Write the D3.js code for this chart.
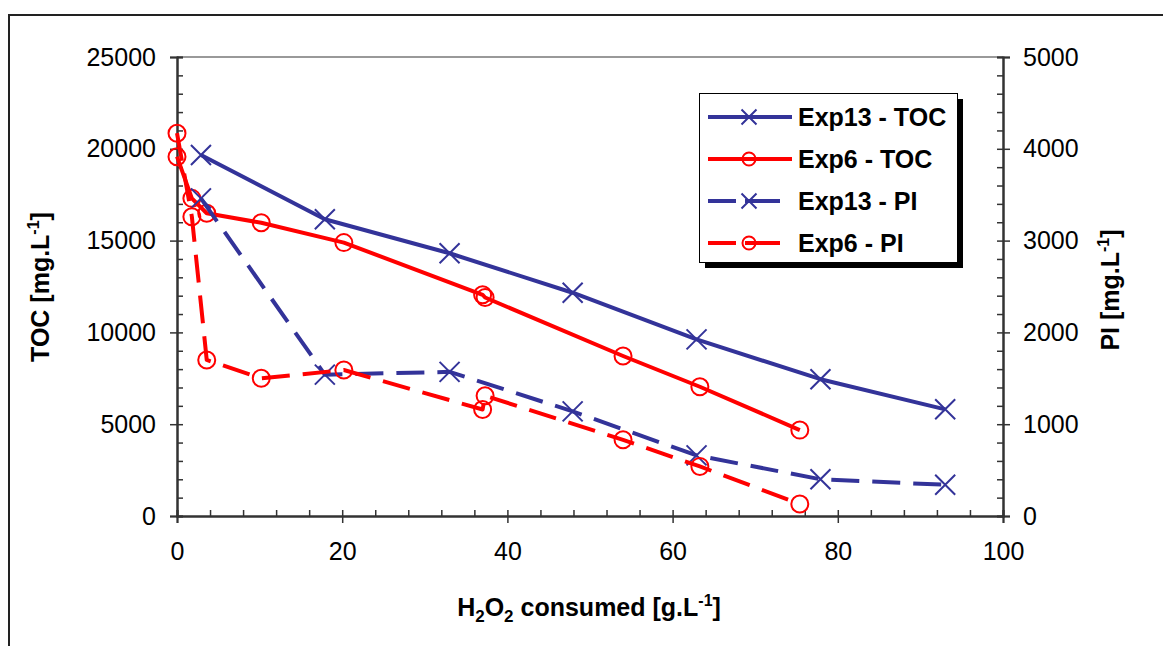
<!DOCTYPE html>
<html>
<head>
<meta charset="utf-8">
<script src="https://cdn.jsdelivr.net/npm/d3@7"></script>
<style>
  body { margin: 0; background: #fff; }
  svg { display: block; font-family: "Liberation Sans", Arial, sans-serif; }
</style>
</head>
<body>
<svg id="chart" width="1163" height="646"></svg>
<script>
// H2O2 consumed [g/L] and measured values
const h2o2Exp13 = [2.9, 17.9, 33.0, 47.9, 62.9, 77.9, 93.0];
const tocExp13 = [19660, 16160, 14310, 12160, 9620, 7450, 5810];
const piExp13 = [3460, 1540, 1570, 1140, 660, 400, 340];

const h2o2Exp6 = [0, 1.8, 3.6, 10.2, 20.2, 37.0, 37.3, 54.0, 63.3, 75.4];
const tocExp6 = [19570, 17300, 16490, 15970, 14890, 12050, 11900, 8715, 7040, 4680];
const piExp6 = [4170, 3260, 1700, 1500, 1590, 1160, 1310, 830, 540, 130];

const xTicks = [0, 20, 40, 60, 80, 100];
const tocTicks = [0, 5000, 10000, 15000, 20000, 25000];
const piTicks = [0, 1000, 2000, 3000, 4000, 5000];
const seriesNames = ['Exp13 - TOC', 'Exp6 - TOC', 'Exp13 - PI', 'Exp6 - PI'];

(function() {
    const svg = d3.select('#chart');
    const plot = { left: 177, right: 1003, top: 57, bottom: 516 };
    const BLUE = '#333399', RED = '#ff0000', AXIS = '#333';

    const x = d3.scaleLinear().domain([0, 100]).range([plot.left, plot.right]);
    const yToc = d3.scaleLinear().domain([0, 25000]).range([plot.bottom, plot.top]);
    const yPi = d3.scaleLinear().domain([0, 5000]).range([plot.bottom, plot.top]);

    // outer frame (only left and top visible)
    svg.append('path')
        .attr('d', 'M9,646 V15 H1163')
        .attr('fill', 'none')
        .attr('stroke', '#222')
        .attr('stroke-width', 2);

    // plot area top border
    svg.append('line')
        .attr('x1', plot.left).attr('x2', plot.right)
        .attr('y1', plot.top).attr('y2', plot.top)
        .attr('stroke', '#999').attr('stroke-width', 2);

    function styleAxis(g) {
        g.select('.domain').attr('stroke', AXIS).attr('stroke-width', 2);
        g.selectAll('.tick line').attr('stroke', AXIS).attr('stroke-width', 1.5);
        g.selectAll('text').attr('fill', '#000').attr('font-size', '25px')
            .attr('font-family', '"Liberation Sans", Arial, sans-serif');
    }

    const minor = (scale, step) => d3.range(scale.domain()[0], scale.domain()[1] + step / 2, step);

    // left axis (TOC)
    svg.append('g').attr('transform', `translate(${plot.left},0)`)
        .call(d3.axisRight(yToc).tickValues(minor(yToc, 1000)).tickSize(6).tickFormat(''))
        .call(styleAxis);
    svg.append('g').attr('transform', `translate(${plot.left},0)`)
        .call(d3.axisLeft(yToc).tickValues(tocTicks).tickSize(7).tickPadding(14).tickFormat(d3.format('d')))
        .call(styleAxis);

    // right axis (PI)
    svg.append('g').attr('transform', `translate(${plot.right},0)`)
        .call(d3.axisLeft(yPi).tickValues(minor(yPi, 200)).tickSize(6).tickFormat(''))
        .call(styleAxis);
    svg.append('g').attr('transform', `translate(${plot.right},0)`)
        .call(d3.axisRight(yPi).tickValues(piTicks).tickSize(7).tickPadding(13).tickFormat(d3.format('d')))
        .call(styleAxis);

    // bottom axis
    svg.append('g').attr('transform', `translate(0,${plot.bottom})`)
        .call(d3.axisTop(x).tickValues(minor(x, 4)).tickSize(6).tickFormat(''))
        .call(styleAxis);
    svg.append('g').attr('transform', `translate(0,${plot.bottom})`)
        .call(d3.axisBottom(x).tickValues(xTicks).tickSize(7).tickPadding(19))
        .call(styleAxis);

    // axis titles
    const xTitle = svg.append('text')
        .attr('x', 589).attr('y', 616)
        .attr('text-anchor', 'middle')
        .attr('font-size', '25px').attr('font-weight', 'bold');
    xTitle.append('tspan').text('H');
    xTitle.append('tspan').attr('dy', 6).attr('font-size', '17px').text('2');
    xTitle.append('tspan').attr('dy', -6).text('O');
    xTitle.append('tspan').attr('dy', 6).attr('font-size', '17px').text('2');
    xTitle.append('tspan').attr('dy', -6).text(' consumed [g.L');
    xTitle.append('tspan').attr('dy', -10).attr('font-size', '16px').text('-1');
    xTitle.append('tspan').attr('dy', 10).text(']');

    function yTitle(label, cx, cy) {
        const t = svg.append('text')
            .attr('transform', `translate(${cx},${cy}) rotate(-90)`)
            .attr('text-anchor', 'middle')
            .attr('font-size', '25px').attr('font-weight', 'bold');
        t.append('tspan').text(label + ' [mg.L');
        t.append('tspan').attr('dy', -10).attr('font-size', '16px').text('-1');
        t.append('tspan').attr('dy', 10).text(']');
    }
    yTitle('TOC', 49, 287);
    yTitle('PI', 1119, 290);

    const series = [
        { name: seriesNames[0], xs: h2o2Exp13, ys: tocExp13, y: yToc, color: BLUE, dashed: false, marker: 'x' },
        { name: seriesNames[1], xs: h2o2Exp6, ys: tocExp6, y: yToc, color: RED, dashed: false, marker: 'o' },
        { name: seriesNames[2], xs: h2o2Exp13, ys: piExp13, y: yPi, color: BLUE, dashed: true, marker: 'x' },
        { name: seriesNames[3], xs: h2o2Exp6, ys: piExp6, y: yPi, color: RED, dashed: true, marker: 'o' }
    ];

    function drawMarker(g, type, cx, cy, size, color) {
        if (type === 'x') {
            g.append('path')
                .attr('d', `M${cx - size},${cy - size}L${cx + size},${cy + size}M${cx - size},${cy + size}L${cx + size},${cy - size}`)
                .attr('stroke', color).attr('stroke-width', 2).attr('fill', 'none');
        } else {
            g.append('circle')
                .attr('cx', cx).attr('cy', cy).attr('r', size)
                .attr('stroke', color).attr('stroke-width', 2).attr('fill', 'none');
        }
    }

    series.forEach(function(s) {
        const pts = s.xs.map((v, i) => [x(v), s.y(s.ys[i])]);
        const g = svg.append('g');
        g.append('path')
            .attr('d', d3.line()(pts))
            .attr('fill', 'none')
            .attr('stroke', s.color)
            .attr('stroke-width', 4)
            .attr('stroke-linejoin', 'round')
            .attr('stroke-dasharray', s.dashed ? '28,13' : null);
        pts.forEach(p => drawMarker(g, s.marker, p[0], p[1], s.marker === 'x' ? 10 : 8.5, s.color));
    });

    // legend
    const lg = svg.append('g');
    lg.append('rect').attr('x', 705).attr('y', 99).attr('width', 258).attr('height', 169).attr('fill', '#000');
    lg.append('rect').attr('x', 699.5).attr('y', 93.5).attr('width', 258).attr('height', 169)
        .attr('fill', '#fff').attr('stroke', '#000').attr('stroke-width', 1);

    series.forEach(function(s, i) {
        const cy = 117 + i * 42;
        lg.append('line')
            .attr('x1', 708).attr('x2', s.dashed ? 780 : 792)
            .attr('y1', cy).attr('y2', cy)
            .attr('stroke', s.color).attr('stroke-width', 4)
            .attr('stroke-dasharray', s.dashed ? '28,9,35' : null);
        drawMarker(lg, s.marker, 749, cy, s.marker === 'x' ? 7.5 : 6.5, s.color);
        lg.append('text')
            .attr('x', 798).attr('y', cy + 9)
            .attr('font-size', '25px').attr('font-weight', 'bold')
            .text(s.name);
    });
})();
</script>
</body>
</html>
